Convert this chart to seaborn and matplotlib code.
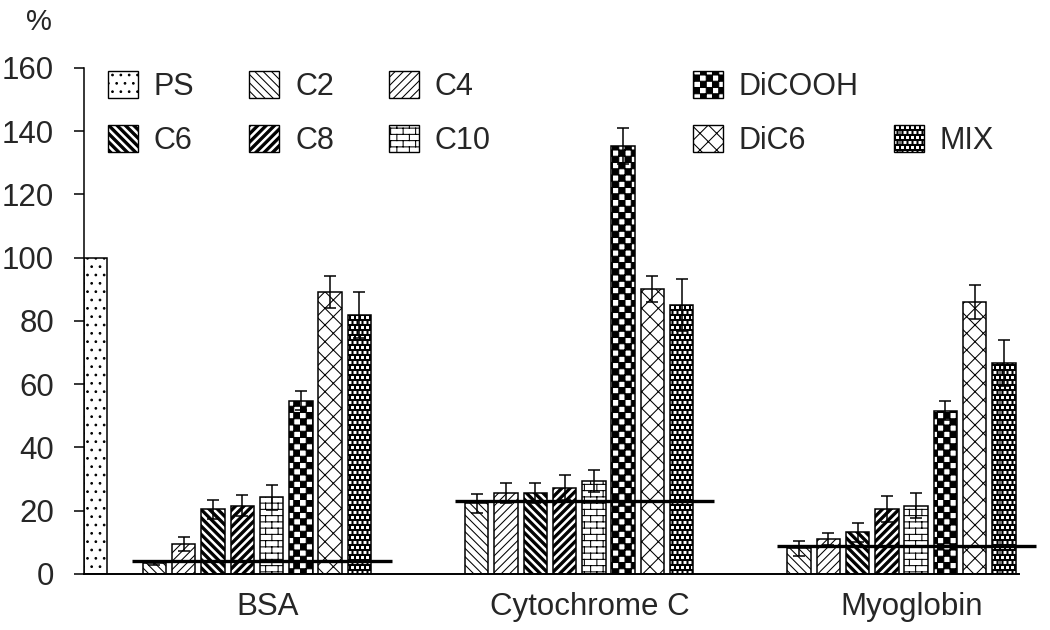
import warnings
warnings.filterwarnings("ignore")
import numpy as np
import pandas as pd
import matplotlib
matplotlib.use("Agg")
import matplotlib.pyplot as plt
import matplotlib.hatch as mhatch
from matplotlib.path import Path
from matplotlib.patches import Patch
import seaborn as sns

# ---------------- data ----------------
proteins = ["BSA", "Cytochrome C", "Myoglobin"]
series = ["C2", "C4", "C6", "C8", "C10", "DiCOOH", "DiC6", "MIX"]
ps_label = "PS"
ps_value = 100
bsa = [3.5, 9.5, 20.5, 21.6, 24.2, 54.8, 89.2, 81.8]
bsa_err = [0.5, 2.3, 3.0, 3.4, 3.9, 3.1, 5.1, 7.3]
cyt = [22.3, 25.5, 25.5, 27.3, 29.4, 135.4, 90.1, 85.0]
cyt_err = [3.0, 3.2, 3.2, 3.9, 3.5, 5.7, 4.2, 8.2]
myo = [8.1, 11.1, 13.2, 20.5, 21.6, 51.6, 86.0, 66.7]
myo_err = [2.3, 2.0, 3.0, 4.1, 3.9, 3.0, 5.3, 7.3]
baseline = [4, 23, 9]
yticks = [0, 20, 40, 60, 80, 100, 120, 140, 160]

# ---------------- custom hatch patterns ----------------
def _build(polys, closed):
    verts, codes = [], []
    for p in polys:
        p = list(p)
        verts.extend(p)
        codes.extend([Path.MOVETO] + [Path.LINETO] * (len(p) - 1))
        if closed:
            verts.append(p[0])
            codes.append(Path.CLOSEPOLY)
    return np.array(verts, float), np.array(codes, dtype=Path.code_type)


class _CustomHatch(mhatch.HatchPatternBase):
    char = ""
    closed = True

    def __init__(self, hatch, density):
        self.num_vertices = 0
        if self.char and hatch and self.char in hatch:
            self._v, self._c = _build(self.polys(), self.closed)
            self.num_vertices = len(self._v)

    def set_vertices_and_codes(self, vertices, codes):
        vertices[:] = self._v
        codes[:] = self._c


class CheckerHatch(_CustomHatch):
    char = "k"

    def polys(self):
        n = 16
        s = 1.0 / n
        out = []
        for i in range(n):
            for j in range(n):
                if (i + j) % 2 == 0:
                    out.append([(i * s, j * s), ((i + 1) * s, j * s),
                                ((i + 1) * s, (j + 1) * s), (i * s, (j + 1) * s)])
        return out


class MixHatch(_CustomHatch):
    char = "m"

    def polys(self):
        n = 20
        h = 0.04
        out = [[(0, 0), (1, 0), (1, 1), (0, 1)]]
        for i in range(n):
            for j in range(n):
                x0 = (j + 0.5 * (i % 2)) / n + (1.0 / n - h) / 2
                y0 = i / n + (1.0 / n - h) / 2
                for dx in (0.0, -1.0):
                    if dx == -1.0 and x0 + h <= 1.0:
                        continue
                    x = x0 + dx
                    out.append([(x, y0), (x, y0 + h), (x + h, y0 + h), (x + h, y0)])
        return out


class ThickNE(_CustomHatch):
    char = "n"

    def polys(self):
        n = 12
        t = 0.032
        out = []
        for k in range(-n - 1, n + 2):
            c = k / n
            out.append([(c - t / 2, 0), (c + t / 2, 0), (c + t / 2 + 1, 1), (c - t / 2 + 1, 1)])
        return out


class ThickNW(_CustomHatch):
    char = "w"

    def polys(self):
        n = 12
        t = 0.032
        out = []
        for k in range(-1, 2 * n + 2):
            c = k / n
            out.append([(c - t / 2, 0), (c + t / 2, 0), (c + t / 2 - 1, 1), (c - t / 2 - 1, 1)])
        return out


class BrickHatch(_CustomHatch):
    char = "b"
    closed = False

    def polys(self):
        rows, cols = 16, 8
        out = []
        for k in range(-1, rows):
            y = (k + 0.5) / rows
            if k >= 0:
                out.append([(0, y), (1, y)])
            for j in range(cols):
                x = (j + 0.25 + 0.5 * (k % 2)) / cols
                out.append([(x, y), (x, y + 1.0 / rows)])
        return out


mhatch._hatch_types.extend([CheckerHatch, MixHatch, ThickNE, ThickNW, BrickHatch])

hatch_map = {"PS": "..", "C2": "\\\\\\\\", "C4": "////", "C6": "w", "C8": "n",
             "C10": "b", "DiCOOH": "k", "DiC6": "xx", "MIX": "m"}

# ---------------- style ----------------
sns.set_style("white")
plt.rcParams["font.family"] = ["Liberation Sans", "DejaVu Sans"]
plt.rcParams["hatch.linewidth"] = 0.75
plt.rcParams["hatch.color"] = "black"

# ---------------- build data frame ----------------
values = [bsa, cyt, myo]
errors = [bsa_err, cyt_err, myo_err]
group_step = 11
centers = np.arange(len(proteins)) * group_step
rows = [{"x": -5.5, "value": ps_value, "err": np.nan, "series": ps_label}]
for g, (vals, errs) in enumerate(zip(values, errors)):
    for i, s in enumerate(series):
        rows.append({"x": centers[g] + i - (len(series) - 1) / 2,
                     "value": vals[i], "err": errs[i], "series": s})
df = pd.DataFrame(rows)

# ---------------- figure ----------------
fig = plt.figure(figsize=(10.5, 6.3), dpi=100)
ax = fig.add_axes([0.08, 0.0889, 0.8902, 0.8032])

order = [ps_label] + series
sns.barplot(data=df, x="x", y="value", hue="series", hue_order=order,
            palette={s: "white" for s in order}, native_scale=True, dodge=False,
            width=0.8, errorbar=None, edgecolor="black", linewidth=1.1,
            saturation=1, legend=False, ax=ax, zorder=2)

pos_to_series = {round(x, 3): s for x, s in zip(df["x"], df["series"])}
for p in ax.patches:
    cx = round(p.get_x() + p.get_width() / 2, 3)
    s = pos_to_series.get(cx)
    if s is not None:
        p.set_hatch(hatch_map[s])

err_df = df.dropna(subset=["err"])
ax.errorbar(err_df["x"], err_df["value"], yerr=err_df["err"], fmt="none",
            ecolor="black", elinewidth=1.1, capsize=4, capthick=1.1, zorder=3)

ax.hlines(baseline, centers - 4.25, centers + 4.6, color="black", lw=2.4,
          zorder=4, clip_on=False)

ax.set_xlim(-5.9, 26.0)
ax.set_ylim(0, 160)
ax.set_yticks(yticks)
ax.set_xticks(centers + 0.35)
ax.set_xticklabels(proteins)
ax.set_xlabel("")
ax.set_ylabel("")
for side in ("top", "right"):
    ax.spines[side].set_visible(False)
ax.spines["left"].set_linewidth(1.1)
ax.spines["bottom"].set_linewidth(1.4)
ax.spines["left"].set_color("black")
ax.spines["bottom"].set_color("black")
ax.tick_params(axis="y", length=7.5, width=1.1, direction="out", pad=14,
               labelsize=22.5, left=True, color="black")
ax.tick_params(axis="x", length=0, pad=13, labelsize=22.5)

fig.text(39 / 1050, 1 - 22 / 630, "%", ha="center", va="center", fontsize=21)


def handle(s):
    return Patch(facecolor="white", edgecolor="black", linewidth=1.0,
                 hatch=hatch_map[s], label=s)


fs = 22
leg_kw = dict(loc="upper left", frameon=False, fontsize=fs, handlelength=0.98,
              handleheight=0.98, handletextpad=0.52, labelspacing=0.75,
              borderpad=0, borderaxespad=0)
fig.legend(handles=[handle(s) for s in ["PS", "C6", "C2", "C8", "C4", "C10"]],
           ncol=3, columnspacing=1.8,
           bbox_to_anchor=(108 / 1050, 1 - 71 / 630), **leg_kw)
blank = Patch(facecolor="none", edgecolor="none", label="", visible=False)
fig.legend(handles=[handle("DiCOOH"), handle("DiC6"), blank, handle("MIX")],
           ncol=2, columnspacing=1.14,
           bbox_to_anchor=(693 / 1050, 1 - 71 / 630), **leg_kw)

fig.savefig("out.png", dpi=100)
